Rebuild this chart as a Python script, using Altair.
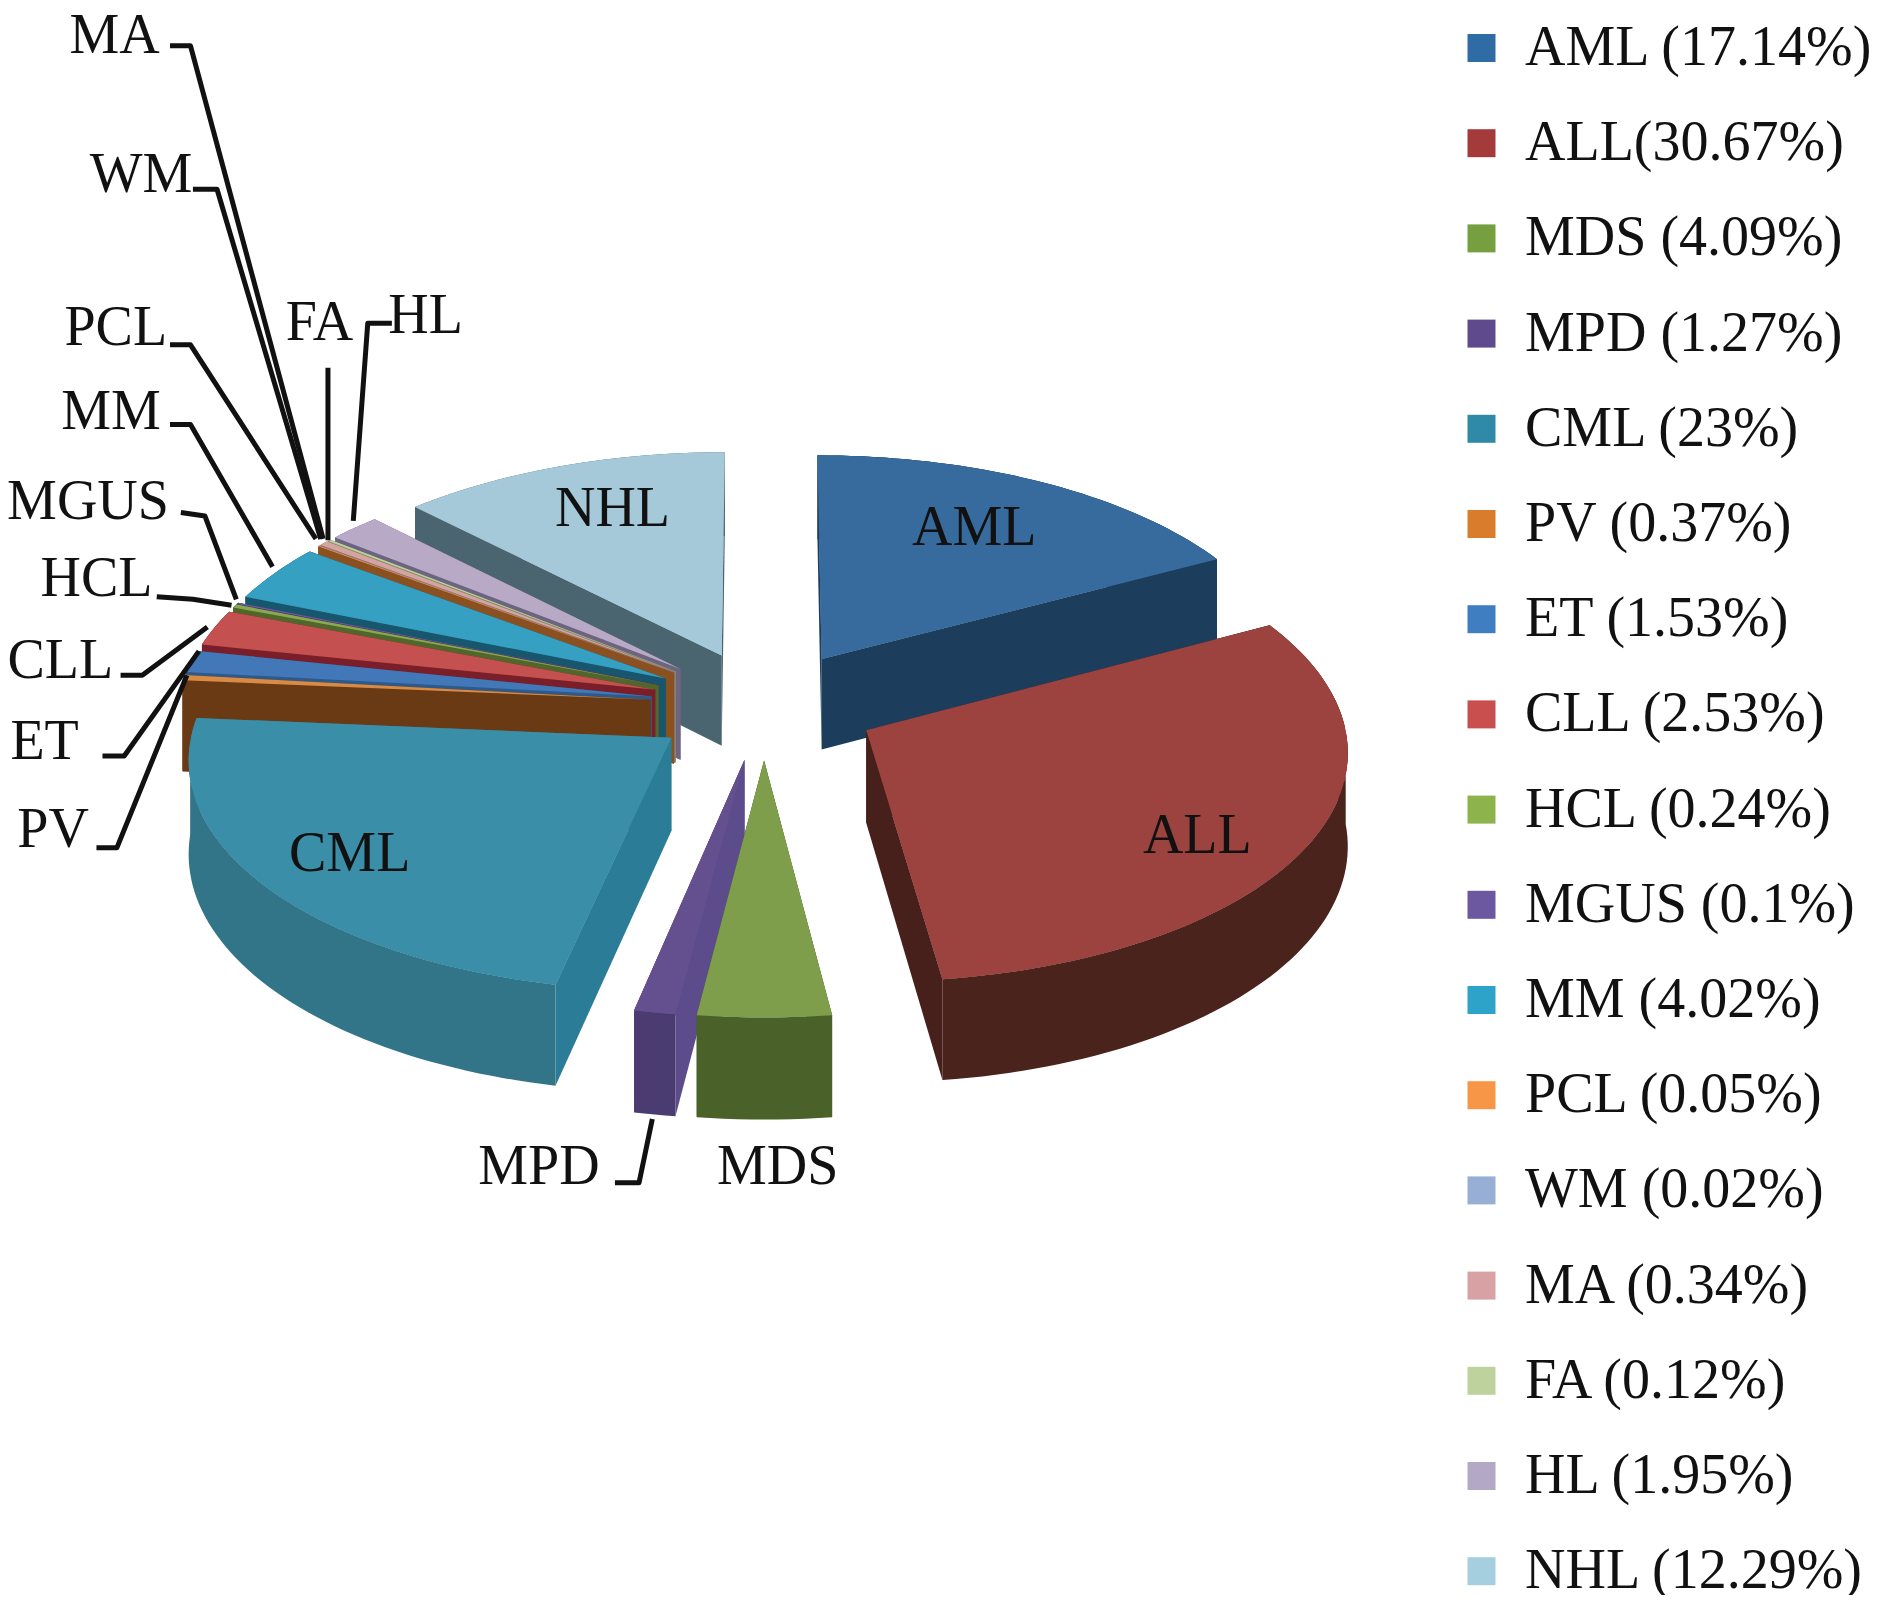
import math
import altair as alt

# ---- chart data ----
names = ["AML","ALL","MDS","MPD","CML","PV","ET","CLL","HCL","MGUS","MM","PCL","WM","MA","FA","HL","NHL"]
percents = [17.14,30.67,4.09,1.27,23,0.37,1.53,2.53,0.24,0.1,4.02,0.05,0.02,0.34,0.12,1.95,12.29]
legend_labels = ["AML (17.14%)","ALL(30.67%)","MDS (4.09%)","MPD (1.27%)","CML (23%)","PV (0.37%)","ET (1.53%)",
                 "CLL (2.53%)","HCL (0.24%)","MGUS (0.1%)","MM (4.02%)","PCL (0.05%)","WM (0.02%)","MA (0.34%)",
                 "FA (0.12%)","HL (1.95%)","NHL (12.29%)"]

# ---- styles ----
swatch_colors = ["#2f6ca6","#a53a3b","#76a03f","#5f4a8e","#2e8aa6","#d97d2c","#3f7fc1","#c94f4f","#8db34d",
                 "#6c58a0","#2ea3c9","#f79646","#98afd5","#d8a2a5","#bdd29c","#b3a9c7","#a5cfdf"]
top_colors = ["#376b9e","#9c4340","#7f9e4c","#64508f","#3a8ea8","#d98a45","#4278b8","#c4504f","#8aa84f",
              "#6c58a0","#36a0c2","#f0a060","#98afd5","#d4a4a0","#bdd29c","#b8a9c7","#a6c9da"]
rim_colors = ["#1c3e5c","#4a231d","#4a6129","#4a3c70","#327488","#7a4a20","#2d5a8a","#7a1f2a","#50662a",
              "#3f3566","#17566d","#a35d20","#6a7d9c","#92696b","#7e8e63","#6c6480","#5c7680"]
cut_colors = ["#1c3e5c","#471f1b","#4a6129","#5d4c8c","#2b7d97","#6a3a15","#2d5a8a","#7a1f2a","#50662a",
              "#3f3566","#17566d","#8a5020","#6a7d9c","#92696b","#7e8e63","#6c6480","#4a6470"]

# ---- layout (page pixels of the reference, scale from the preview) ----
S = 1887 / 1565
OFF = 8
CX, CY, A, B, P, EXPLODE, H = 764, 705, 475, 227, 0.08, 0.24, 92
FONT = "Liberation Serif"
label_pos = {"AML":(808,438),"ALL":(993,693),"NHL":(508,422),"CML":(290,708),"MDS":(645,968),"MPD":(447,968),
             "PV":(44,688),"ET":(37,615),"CLL":(50,548),"HCL":(80,480),"MGUS":(73,416),"MM":(92,342),
             "PCL":(96,272),"WM":(117,145),"MA":(95,29.5),"FA":(265,268),"HL":(353,262)}
leaders = [[(141,38),(158,38),(268,447)],[(160,157),(180,157),(266,447)],[(141,286),(158,286),(262,447)],
           [(141,352),(158,352),(226,470)],[(150,425),(170,428),(196,497)],[(130,495),(160,497),(192,502)],
           [(100,560),(118,560),(172,520)],[(85,627),(103,627),(165,540)],[(80,703),(97,703),(155,560)],
           [(272,305),(272,448)],[(325,268),(305,268),(293,432)],[(510,981),(530,981),(541,928)]]


def proj(gx, gy, low=False):
    s = 1 / (1 + P * gy)
    return [CX + A * gx * s - OFF, CY - B * gy * s + (H * s if low else 0) - OFF]


def poly(points, **props):
    pts = [list(p) for p in points] + [list(points[0])]
    return {"type": "Feature", "properties": props, "geometry": {"type": "Polygon", "coordinates": [pts]}}


total = sum(percents)
slices, cum = [], 0.0
for i, v in enumerate(percents):
    t0 = cum / total * 2 * math.pi
    cum += v
    t1 = cum / total * 2 * math.pi
    m = (t0 + t1) / 2
    ox, oy = EXPLODE * math.sin(m), EXPLODE * math.cos(m)
    n = max(2, int((t1 - t0) / math.radians(1.5)) + 2)
    angles = [t0 + (t1 - t0) * k / (n - 1) for k in range(n)]
    arc = [(ox + math.sin(t), oy + math.cos(t)) for t in angles]
    top = [proj(ox, oy)] + [proj(*g) for g in arc]

    def cut(g):
        return poly([proj(ox, oy), proj(*g), proj(*g, low=True), proj(ox, oy, low=True)], fill=cut_colors[i])

    def rim(part):
        return poly([proj(*g) for g in part] + [proj(*g, low=True) for g in reversed(part)], fill=rim_colors[i])

    back, front = [], []
    (front if math.sin(t0) < 0 else back).append(cut(arc[0]))
    (front if math.sin(t1) > 0 else back).append(cut(arc[-1]))
    back_arc = [g for g, t in zip(arc, angles) if math.cos(t) >= 0]
    front_arc = [g for g, t in zip(arc, angles) if math.cos(t) <= 0]
    if len(back_arc) > 1:
        back.insert(0, rim(back_arc))
    if len(front_arc) > 1:
        front.append(rim(front_arc))
    slices.append((oy, i, back + front, poly(top, fill=top_colors[i], label=legend_labels[i])))

faces = []
for oy, i, walls, top in sorted(slices, key=lambda r: -r[0]):
    faces.extend(walls)
    faces.append(top)
tops = [s[3] for s in slices]

leader_feats = [{"type": "Feature", "properties": {},
                 "geometry": {"type": "LineString", "coordinates": [[x * S - OFF, y * S - OFF] for x, y in pts]}}
                for pts in leaders]
text_rows = [{"name": n, "lon": label_pos[n][0] * S - OFF, "lat": label_pos[n][1] * S - OFF} for n in names]

PROJ = dict(type="identity", scale=1, translate=[0, 0])

legend_layer = alt.Chart(alt.InlineData(values=tops)).mark_geoshape(strokeWidth=0).encode(
    color=alt.Color("properties.label:N",
                    scale=alt.Scale(domain=legend_labels, range=swatch_colors),
                    sort=legend_labels,
                    legend=alt.Legend(title=None, orient="none", legendX=1445.5, legendY=12, symbolType="square",
                                      symbolSize=784, symbolStrokeWidth=0, symbolOpacity=1,
                                      labelFont=FONT, labelFontSize=56, labelColor="#111111", labelLimit=500,
                                      labelOffset=15.5, rowPadding=39.2, columns=1))
).project(**PROJ)

face_layer = alt.Chart(alt.InlineData(values=faces)).mark_geoshape(strokeWidth=0).encode(
    fill=alt.Fill("properties.fill:N", scale=None, legend=None)
).project(**PROJ)

line_layer = alt.Chart(alt.InlineData(values=leader_feats)).mark_geoshape(
    filled=False, stroke="#111111", strokeWidth=5, strokeJoin="round"
).project(**PROJ)

text_layer = alt.Chart(alt.InlineData(values=text_rows)).mark_text(
    font=FONT, fontSize=56, color="#111111", align="center", baseline="middle"
).encode(longitude="lon:Q", latitude="lat:Q", text="name:N").project(**PROJ)

chart = alt.layer(legend_layer, face_layer, line_layer, text_layer).properties(
    width=1871, height=1587, padding=0, autosize=alt.AutoSizeParams(type="none"), background="white"
).configure_view(stroke=None)

chart.save("out.html", embed_options={"renderer": "svg", "actions": False})
